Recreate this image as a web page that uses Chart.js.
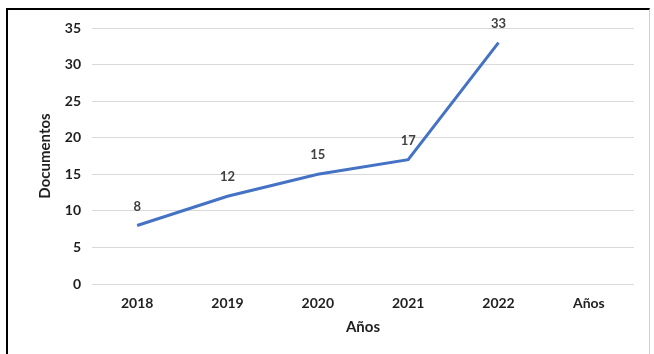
<!DOCTYPE html>
<html>
<head>
<meta charset="utf-8">
<script src="https://cdn.jsdelivr.net/npm/chart.js@4.4.0/dist/chart.umd.min.js"></script>
<style>
  html, body { margin: 0; padding: 0; background: #ffffff; overflow: hidden; }
  #wrap { position: relative; width: 654px; height: 354px; }
  #frame { position: absolute; left: 6px; top: 8px; width: 644px; height: 360px;
           border-top: 2px solid #000; border-left: 2px solid #000; border-right: 1px solid #d0d0d0; box-sizing: border-box; pointer-events: none; }
  canvas { position: absolute; left: 0; top: 0; }
</style>
</head>
<body>
<div id="wrap">
  <canvas id="c" width="654" height="354"></canvas>
  <div id="frame"></div>
</div>
<script>
const categories = ["2018", "2019", "2020", "2021", "2022", "Años"];
const documentos = [8, 12, 15, 17, 33, null];
const yTicks = [0, 5, 10, 15, 20, 25, 30, 35];

const FONT = "Lato, 'Open Sans', 'DejaVu Sans', sans-serif";

const labelPlugin = {
  id: 'pointLabels',
  afterDatasetsDraw(chart) {
    const ctx = chart.ctx;
    const meta = chart.getDatasetMeta(0);
    ctx.save();
    ctx.font = "bold 13px " + FONT;
    ctx.fillStyle = "#404040";
    ctx.textAlign = "center";
    ctx.textBaseline = "middle";
    meta.data.forEach((pt, i) => {
      const v = documentos[i];
      if (v === null || v === undefined) return;
      ctx.fillText(String(v), pt.x, pt.y - 19);
    });
    ctx.restore();
  }
};

new Chart(document.getElementById('c'), {
  type: 'line',
  data: {
    labels: categories,
    datasets: [{
      data: documentos,
      borderColor: '#4472C4',
      borderWidth: 3,
      pointRadius: 0,
      pointHoverRadius: 0,
      tension: 0,
      fill: false
    }]
  },
  plugins: [labelPlugin],
  options: {
    responsive: false,
    animation: false,
    events: [],
    layout: { padding: { left: 36, top: 28, right: 20, bottom: 18 } },
    plugins: { legend: { display: false }, tooltip: { enabled: false } },
    scales: {
      x: {
        offset: true,
        grid: { display: false, drawTicks: false },
        border: { display: false },
        ticks: { padding: 11, color: '#1f1f1f', font: { family: FONT, size: 14, weight: 'bold' } },
        title: { display: true, text: 'Años', color: '#1f1f1f', padding: { top: 3, bottom: 0 }, font: { family: FONT, size: 15, weight: 'bold' } },
        afterFit(scale) { scale.height = 52; }
      },
      y: {
        min: 0,
        max: 35,
        afterBuildTicks(scale) { scale.ticks = yTicks.map(v => ({ value: v })); },
        grid: { color: '#d9d9d9', lineWidth: 1, drawTicks: false },
        border: { display: false },
        ticks: { padding: 11, color: '#1f1f1f', font: { family: FONT, size: 14, weight: 'bold' } },
        title: { display: true, text: 'Documentos', color: '#1f1f1f', padding: { top: 0, bottom: 0 }, font: { family: FONT, size: 15, weight: 'bold' } },
        afterFit(scale) { scale.width = 56; }
      }
    }
  }
});
</script>
</body>
</html>
